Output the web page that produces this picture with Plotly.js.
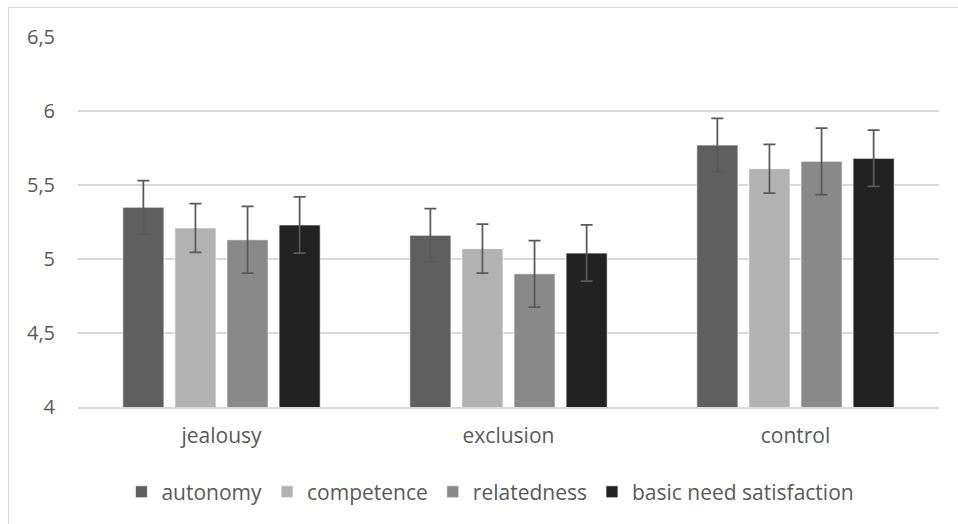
<!DOCTYPE html>
<html>
<head>
<meta charset="utf-8">
<script src="https://cdn.plot.ly/plotly-3.0.1.min.js"></script>
<style>
html,body{margin:0;padding:0;background:#fff;}
#frame{position:absolute;left:8px;top:7px;width:960px;height:530px;border-top:1px solid #d9d9d9;border-left:1px solid #d9d9d9;pointer-events:none;z-index:5;}
#chart{position:absolute;left:0;top:0;width:958px;height:524px;}
</style>
</head>
<body>
<div id="chart"></div>
<div id="frame"></div>
<script>
const categories = ["jealousy", "exclusion", "control"];
const seriesNames = ["autonomy", "competence", "relatedness", "basic need satisfaction"];
const autonomy = [5.35, 5.16, 5.77];
const competence = [5.21, 5.07, 5.61];
const relatedness = [5.13, 4.90, 5.66];
const basicNeed = [5.23, 5.04, 5.68];
const autonomyErr = [0.18, 0.18, 0.18];
const competenceErr = [0.165, 0.165, 0.165];
const relatednessErr = [0.225, 0.225, 0.225];
const basicNeedErr = [0.19, 0.19, 0.19];
const yTicks = [4, 4.5, 5, 5.5, 6, 6.5];

const colors = ["#5f5f5f", "#b2b2b2", "#898989", "#222222"];
const values = [autonomy, competence, relatedness, basicNeed];
const errs = [autonomyErr, competenceErr, relatednessErr, basicNeedErr];

const traces = seriesNames.map((name, i) => ({
  type: "bar",
  name: name,
  x: categories,
  y: values[i],
  marker: {color: colors[i], line: {color: "rgba(255,255,255,0.7)", width: 1}},
  error_y: {type: "data", array: errs[i], visible: true, color: "#595959", thickness: 1.75, width: 6}
}));

const fontFamily = "Open Sans, sans-serif";
const bigFont = {family: fontFamily, size: 21, color: "#595959"};
const tickFont = {family: fontFamily, size: 20, color: "#595959"};

const layout = {
  width: 958, height: 524,
  margin: {l: 78, r: 19, t: 37, b: 117},
  paper_bgcolor: "#fff", plot_bgcolor: "#fff",
  separators: ", ",
  font: bigFont,
  barmode: "group",
  bargap: 0.274,
  bargroupgap: 0.21,
  showlegend: true,
  legend: {orientation: "h", x: 0.479, xanchor: "center", y: -0.23, yanchor: "middle",
           font: bigFont, itemwidth: 30, traceorder: "normal"},
  xaxis: {type: "category", tickfont: bigFont, showgrid: false, zeroline: false,
          showline: true, linecolor: "#d9d9d9", linewidth: 1.5, ticks: "", ticklabelstandoff: 9},
  yaxis: {range: [4, 6.5], tickvals: yTicks, tickfont: tickFont, showgrid: true,
          gridcolor: "#d9d9d9", gridwidth: 1.5, zeroline: false, showline: false,
          ticks: "", ticklabelstandoff: 22}
};

Plotly.newPlot("chart", traces, layout, {displayModeBar: false, staticPlot: true});
</script>
</body>
</html>
